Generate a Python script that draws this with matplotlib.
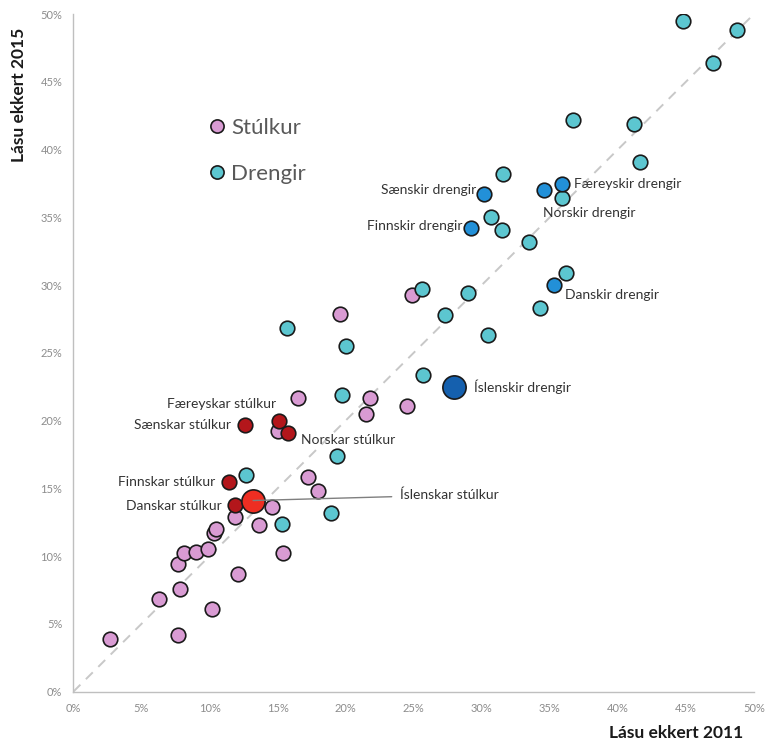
import numpy as np
import matplotlib.pyplot as plt
from matplotlib.lines import Line2D
from matplotlib.ticker import PercentFormatter

plt.rcParams['font.family'] = ['Lato', 'DejaVu Sans']

#%% Data (percent)

# girls, all countries
girls_2011 = [2.7, 7.7, 10.2, 6.3, 7.8, 12.1, 7.7, 8.1, 9.0, 9.9, 10.3, 10.5, 11.9, 13.6,
              14.6, 15.4, 17.2, 18.0, 15.0, 16.5, 21.8, 21.5, 24.5, 24.9, 19.6]
girls_2015 = [3.9, 4.2, 6.1, 6.8, 7.6, 8.7, 9.4, 10.2, 10.3, 10.5, 11.7, 12.0, 12.9, 12.3,
              13.6, 10.2, 15.8, 14.8, 19.2, 21.7, 21.7, 20.5, 21.1, 29.3, 27.9]

# boys, all countries
boys_2011 = [20.0, 19.7, 19.4, 12.7, 15.3, 18.9, 15.7, 25.6, 44.8, 48.8, 47.0, 36.7, 41.2,
             41.6, 31.6, 35.9, 30.7, 31.5, 33.5, 36.2, 34.3, 29.0, 27.3, 30.5, 25.7]
boys_2015 = [25.5, 21.9, 17.4, 16.0, 12.4, 13.2, 26.8, 29.7, 49.5, 48.8, 46.4, 42.2, 41.9,
             39.1, 38.2, 36.4, 35.0, 34.1, 33.2, 30.9, 28.3, 29.4, 27.8, 26.3, 23.4]

# nordic girls
nordic_girls = ['Sænskar stúlkur', 'Færeyskar stúlkur', 'Norskar stúlkur',
                'Finnskar stúlkur', 'Danskar stúlkur']
nordic_girls_2011 = [12.6, 15.1, 15.8, 11.4, 11.9]
nordic_girls_2015 = [19.7, 20.0, 19.1, 15.5, 13.8]

# nordic boys
nordic_boys = ['Sænskir drengir', 'Færeyskir drengir', 'Norskir drengir',
               'Finnskir drengir', 'Danskir drengir']
nordic_boys_2011 = [30.2, 35.9, 34.6, 29.2, 35.3]
nordic_boys_2015 = [36.7, 37.5, 37.0, 34.2, 30.0]

# iceland
is_girls = ('Íslenskar stúlkur', 13.2, 14.1)
is_boys = ('Íslenskir drengir', 28.0, 22.5)

ticks = np.arange(0, 51, 5)

#%% Plot

pink = '#D99BD3'
cyan = '#5CC6D0'
blue = '#2290D8'
darkblue = '#1560AE'
darkred = '#B3161B'
red = '#EE2E22'
edge = '#1a1a1a'

fig = plt.figure(figsize=(7.67, 7.46), dpi=100)
ax = fig.add_axes([0.0958, 0.073, 0.887, 0.908])

ax.plot([0, 50], [0, 50], ls=(0, (5, 4)), color='#c8c8c8', lw=1.4, zorder=1)

ax.scatter(girls_2011, girls_2015, s=110, c=pink, edgecolors=edge, linewidths=1.2, zorder=3)
ax.scatter(boys_2011, boys_2015, s=110, c=cyan, edgecolors=edge, linewidths=1.2, zorder=3)
ax.scatter(nordic_girls_2011, nordic_girls_2015, s=110, c=darkred, edgecolors=edge, linewidths=1.2, zorder=4)
ax.scatter(nordic_boys_2011, nordic_boys_2015, s=110, c=blue, edgecolors=edge, linewidths=1.2, zorder=4)
ax.scatter([is_girls[1]], [is_girls[2]], s=280, c=red, edgecolors=edge, linewidths=1.2, zorder=5)
ax.scatter([is_boys[1]], [is_boys[2]], s=280, c=darkblue, edgecolors=edge, linewidths=1.2, zorder=5)

# labels: (x, y, ha) in data units
lab_pos = {
    'Sænskar stúlkur': (11.6, 19.7, 'right'),
    'Færeyskar stúlkur': (14.9, 21.2, 'right'),
    'Norskar stúlkur': (16.7, 18.6, 'left'),
    'Finnskar stúlkur': (10.4, 15.5, 'right'),
    'Danskar stúlkur': (10.9, 13.7, 'right'),
    'Sænskir drengir': (29.6, 37.0, 'right'),
    'Færeyskir drengir': (36.8, 37.5, 'left'),
    'Norskir drengir': (34.5, 35.3, 'left'),
    'Finnskir drengir': (28.6, 34.4, 'right'),
    'Danskir drengir': (36.1, 29.3, 'left'),
}
for name in nordic_girls + nordic_boys:
    x, y, ha = lab_pos[name]
    ax.text(x, y, name, ha=ha, va='center', fontsize=10, color='#333333', zorder=6)

ax.text(29.4, 22.5, is_boys[0], ha='left', va='center', fontsize=10, color='#333333', zorder=6)
ax.annotate(is_girls[0], xy=(is_girls[1], is_girls[2]), xytext=(24.0, 14.5),
            ha='left', va='center', fontsize=10, color='#333333', zorder=6,
            arrowprops=dict(arrowstyle='-', color='#7f7f7f', lw=1.0, shrinkA=4, shrinkB=0))

handles = [Line2D([], [], ls='', marker='o', ms=9.5, mfc=pink, mec=edge, mew=1.2),
           Line2D([], [], ls='', marker='o', ms=9.5, mfc=cyan, mec=edge, mew=1.2)]
ax.legend(handles, ['Stúlkur', 'Drengir'], loc='upper left', bbox_to_anchor=(0.165, 0.876),
          frameon=False, fontsize=16, labelcolor='#595959', handletextpad=0.15,
          labelspacing=1.15, handlelength=1.0)

ax.set_xlim(0, 50)
ax.set_ylim(0, 50)
ax.set_xticks(ticks)
ax.set_yticks(ticks)
ax.xaxis.set_major_formatter(PercentFormatter(decimals=0))
ax.yaxis.set_major_formatter(PercentFormatter(decimals=0))
ax.tick_params(length=0, labelsize=8, labelcolor='#8c8c8c', pad=8)
for s in ['top', 'right']:
    ax.spines[s].set_visible(False)
for s in ['left', 'bottom']:
    ax.spines[s].set_color('#bfbfbf')
    ax.spines[s].set_linewidth(1.0)

fig.text(0.025, 0.873, 'Lásu ekkert 2015', rotation=90, ha='center', va='center',
         fontsize=12.5, fontweight='bold', color='#1a1a1a')
fig.text(0.969, 0.017, 'Lásu ekkert 2011', ha='right', va='center',
         fontsize=12.5, fontweight='bold', color='#1a1a1a')

fig.savefig('out.png', dpi=100)
